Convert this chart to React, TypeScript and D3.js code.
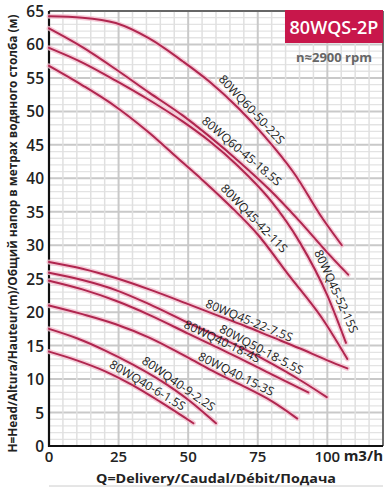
import React from 'react';
import * as d3 from 'd3';

const W = 392;
const HGT = 488;

// Tick values
const qTicks = [0, 25, 50, 75, 100];
const hTicks = [0, 5, 10, 15, 20, 25, 30, 35, 40, 45, 50, 55, 60, 65];

// Performance curves [Q m3/h, H m]
const c60_50_22 = [[0, 64.2], [12, 64.0], [24, 63.2], [36, 60.9], [48, 57.5], [57.5, 54.5], [68, 50.5], [77, 46.5], [88, 40.8], [98.6, 33.8], [105.2, 30.0]];
const c60_45_185 = [[0, 62.4], [12, 59.6], [24, 56.3], [36, 52.8], [48, 49.4], [57.5, 46.3], [68, 42.6], [79, 38.4], [90, 33.6], [100, 28.9], [107.5, 25.6]];
const c45_52_15 = [[0, 59.5], [12, 57.3], [24, 54.6], [36, 51.7], [48, 48.5], [57.5, 45.6], [68, 41.8], [79.4, 36.8], [90, 30.5], [100, 22.5], [106.7, 15.4]];
const c45_42_11 = [[0, 56.8], [12, 53.9], [24, 50.7], [36, 46.8], [46, 43.1], [55, 39.8], [65, 35.9], [75, 31.6], [86, 25.6], [98.6, 18.8], [107.2, 13.0]];
const c45_22_75 = [[0, 27.5], [12, 26.5], [24, 25.1], [36, 23.4], [50, 21.2], [60, 19.6], [70, 18.0], [80, 16.3], [90, 14.6], [100, 12.8], [107.2, 11.6]];
const c50_18_55 = [[0, 25.9], [12, 24.8], [24, 23.3], [36, 21.2], [50, 18.4], [60, 16.5], [70, 14.5], [80, 12.3], [90, 9.9], [99.8, 7.3]];
const c40_18_4 = [[0, 24.7], [12, 23.4], [24, 21.7], [36, 19.6], [50, 16.8], [60, 14.8], [70, 12.8], [80, 10.7], [93.2, 8.0]];
const c40_15_3 = [[0, 21.0], [12, 19.7], [24, 18.2], [36, 16.2], [50, 13.2], [57.5, 11.5], [70, 8.9], [80, 6.7], [89.2, 4.1]];
const c40_9_22 = [[0, 17.5], [10, 16.1], [20, 14.3], [30, 12.2], [40, 9.8], [50, 6.9], [55, 5.2], [60, 3.4]];
const c40_6_15 = [[0, 14.1], [10, 12.8], [20, 11.2], [30, 9.1], [40, 6.6], [51.9, 3.4]];

const curveNames = ['80WQ60-50-22S', '80WQ60-45-18.5S', '80WQ45-52-15S', '80WQ45-42-11S', '80WQ45-22-7.5S', '80WQ50-18-5.5S', '80WQ40-18-4S', '80WQ40-15-3S', '80WQ40-9-2.2S', '80WQ40-6-1.5S'];
const curveData = [c60_50_22, c60_45_185, c45_52_15, c45_42_11, c45_22_75, c50_18_55, c40_18_4, c40_15_3, c40_9_22, c40_6_15];
// Q at which each label sits along its curve
const labelQ = [70.5, 67, 100, 71.5, 71, 75, 61, 66, 45, 34];
const labelOffset = [9, 10, 10, 9, 7, 8, 8, 8, 8, 8];

const title = '80WQS-2P';
const speed = 'n≈2900 rpm';
const yTitle = 'H=Head/Altura/Hauteur(m)/Общий напор в метрах водяного столба (м)';
const xTitle = 'Q=Delivery/Caudal/Débit/Подача';
const unit = 'm3/h';

const X0 = 49, X1 = 383, Y0 = 446, Y1 = 11;
const x = d3.scaleLinear().domain([0, 120]).range([X0, X1]);
const y = d3.scaleLinear().domain([0, 65]).range([Y0, Y1]);

const lineGen = d3.line<number[]>().x(d => x(d[0])).y(d => y(d[1])).curve(d3.curveMonotoneX);

function interp(c: number[][], q: number) {
  for (let i = 0; i < c.length - 1; i++) {
    if (q >= c[i][0] && q <= c[i + 1][0]) {
      const t = (q - c[i][0]) / (c[i + 1][0] - c[i][0]);
      return c[i][1] + t * (c[i + 1][1] - c[i][1]);
    }
  }
  return c[c.length - 1][1];
}

const RED = '#b0264f';
const FONT = "'Open Sans', 'DejaVu Sans', sans-serif";

export default function App() {
  const vLines = d3.range(0, 121, 5);
  const hLines = d3.range(0, 66, 1);
  return (
    <svg width={W} height={HGT} style={{ position: 'absolute', left: 0, top: 0, background: '#fff' }} fontFamily={FONT}>
      <rect width={W} height={HGT} fill="#fff" />
      {/* grid */}
      {hLines.map(h => (
        <line key={'h' + h} x1={X0} x2={X1} y1={y(h)} y2={y(h)} stroke={h % 5 === 0 ? '#c9c9c9' : '#e3e3e3'} strokeWidth={h % 5 === 0 ? 2 : 1.3} />
      ))}
      {vLines.map(q => (
        <line key={'v' + q} x1={x(q)} x2={x(q)} y1={Y1} y2={Y0} stroke={q % 25 === 0 ? '#c9c9c9' : '#e0e0e0'} strokeWidth={q % 25 === 0 ? 2 : 1.5} />
      ))}
      {/* frame */}
      <line x1={X0} x2={X1} y1={Y1} y2={Y1} stroke="#444" strokeWidth={1.5} />
      <line x1={X1} x2={X1} y1={Y1} y2={Y0} stroke="#444" strokeWidth={1.5} />
      <line x1={X0} x2={X0} y1={Y1} y2={Y0 + 1} stroke="#111" strokeWidth={2.2} />
      <line x1={X0 - 1} x2={X1} y1={Y0} y2={Y0} stroke="#111" strokeWidth={2.2} />
      {/* curves */}
      {curveData.map((c, i) => (
        <g key={'c' + i}>
          <path d={lineGen(c as any) || ''} fill="none" stroke="#f3c0cf" strokeWidth={5} strokeOpacity={0.8} strokeLinecap="round" />
          <path d={lineGen(c as any) || ''} fill="none" stroke={RED} strokeWidth={2} strokeLinecap="round" />
        </g>
      ))}
      {/* curve labels */}
      {curveData.map((c, i) => {
        const q = labelQ[i];
        const px = x(q), py = y(interp(c, q));
        const dx = x(q + 1) - x(q - 1);
        const dy = y(interp(c, q + 1)) - y(interp(c, q - 1));
        const a = Math.atan2(dy, dx);
        const d = labelOffset[i];
        const lx = px + d * Math.sin(a);
        const ly = py - d * Math.cos(a);
        return (
          <text key={'l' + i} transform={`translate(${lx},${ly}) rotate(${(a * 180) / Math.PI})`} textAnchor="middle" dominantBaseline="central" fontSize={12} fill="#1a1a1a" fontWeight={500}>
            {curveNames[i]}
          </text>
        );
      })}
      {/* y ticks */}
      {hTicks.map(h => (
        <text key={'yt' + h} x={44} y={y(h)} textAnchor="end" dominantBaseline="central" fontSize={15.5} fontWeight={600} fill="#222">{h}</text>
      ))}
      {/* x ticks */}
      {qTicks.map(q => (
        <text key={'xt' + q} x={x(q)} y={456} textAnchor="middle" dominantBaseline="central" fontSize={15} fontWeight={600} fill="#222">{q}</text>
      ))}
      <text x={383} y={455} textAnchor="end" dominantBaseline="central" fontSize={15} fontWeight={700} fill="#222">{unit}</text>
      <text x={216} y={478} textAnchor="middle" dominantBaseline="central" fontSize={13} fontWeight={700} fill="#222" textLength={240} lengthAdjust="spacingAndGlyphs">{xTitle}</text>
      <line x1={X0} x2={X1} y1={486} y2={486} stroke="#ccc" strokeWidth={1} />
      <text transform={`translate(12,${(455 + 12) / 2}) rotate(-90)`} textAnchor="middle" dominantBaseline="central" fontSize={12} fontWeight={700} fill="#222" textLength={438} lengthAdjust="spacingAndGlyphs">{yTitle}</text>
      {/* title box */}
      <rect x={285} y={10} width={98} height={33} fill="#c8174b" />
      <text x={334} y={27} textAnchor="middle" dominantBaseline="central" fontSize={18} fontWeight={600} fill="#fff">{title}</text>
      <text x={334} y={57} textAnchor="middle" dominantBaseline="central" fontSize={13} fontWeight={700} fill="#666">{speed}</text>
    </svg>
  );
}
